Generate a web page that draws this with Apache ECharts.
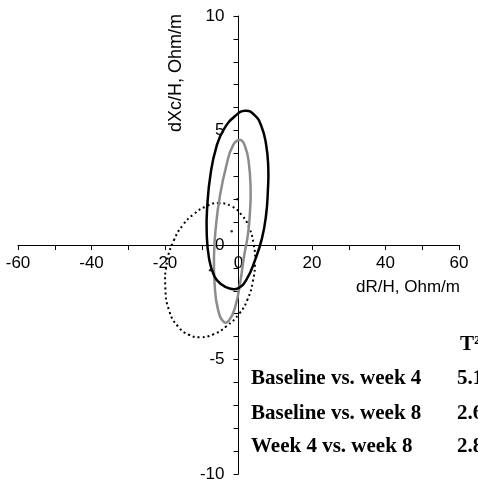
<!DOCTYPE html>
<html>
<head>
<meta charset="utf-8">
<script src="https://cdn.jsdelivr.net/npm/echarts@6/dist/echarts.min.js"></script>
<style>
html,body{margin:0;padding:0;background:#fff;}
#c{width:478px;height:495px;}
</style>
</head>
<body>
<div id="c"></div>
<script>
// ---- data ----
const xTicks = [-60, -40, -20, 0, 20, 40, 60];
const yTicks = [-10, -5, 0, 5, 10];
const xName = 'dR/H, Ohm/m';
const yName = 'dXc/H, Ohm/m';

// black solid ellipse (points along the outline)
const blackEllipse = [[1.8,5.86],[4.3,5.68],[6.2,5.2],[7.5,4.4],[8.1,3.4],[8.0,2.4],[7.5,1.3],[6.4,0.3],[4.5,-0.66],[2.2,-1.5],[0.0,-1.88],[-2.4,-1.9],[-4.8,-1.7],[-6.6,-1.35],[-8.0,-0.6],[-8.65,0.55],[-8.5,1.7],[-7.6,3.1],[-6.0,4.3],[-4.0,5.05],[-1.0,5.62]];
// grey solid ellipse
const greyEllipse = [[0.5,4.58],[1.8,4.3],[2.8,3.6],[3.3,2.4],[3.1,1.4],[2.6,0.5],[1.5,-0.5],[0.5,-1.6],[-0.9,-2.7],[-2.6,-3.3],[-4.0,-3.36],[-5.6,-2.8],[-6.5,-1.7],[-6.65,-0.4],[-6.15,0.8],[-5.1,2.1],[-3.4,3.4],[-1.5,4.35]];
// dotted ellipse
const dottedEllipse = [[-5.5,1.83],[-1.8,1.68],[0.9,1.3],[2.8,0.8],[4.1,0.05],[4.5,-0.7],[3.9,-1.6],[2.4,-2.4],[0.2,-3.0],[-3.3,-3.55],[-6.8,-3.9],[-10.5,-4.03],[-13.5,-3.92],[-16.4,-3.57],[-18.8,-2.9],[-19.9,-1.9],[-19.4,-0.7],[-17.6,0.2],[-15.0,0.9],[-12.3,1.33],[-8.7,1.7]];
// ellipse centres
const centres = [[-0.3,2.0],[-1.85,0.6],[-7.75,-1.1]];

// table
const tableHeader = 'T\u00B2';
const tableRows = ['Baseline vs. week 4', 'Baseline vs. week 8', 'Week 4 vs. week 8'];
const tableValues = ['5.1', '2.6', '2.8'];

// ---- chart ----
const W = 478, H = 495;
const G = {left: 18, right: 19, top: 16, bottom: 21};
const xMin = xTicks[0], xMax = xTicks[xTicks.length - 1];
const yMin = yTicks[0], yMax = yTicks[yTicks.length - 1];
const gridW = W - G.left - G.right, gridH = H - G.top - G.bottom;
// axes cross at the origin: shift them inward from the grid edges
const yAxisOffset = -gridW * (0 - xMin) / (xMax - xMin);
const xAxisOffset = -gridH * (0 - yMin) / (yMax - yMin);

const chart = echarts.init(document.getElementById('c'), null, {renderer: 'canvas'});

function ellipseSeries(pts, color, width, dash) {
  return {
    type: 'custom',
    coordinateSystem: 'cartesian2d',
    clip: false,
    silent: true,
    z: 3,
    data: pts,
    encode: {x: 0, y: 1},
    renderItem: function (params, api) {
      if (params.dataIndex !== 0) return null;
      return {
        type: 'polygon',
        shape: {points: pts.map(function (p) { return api.coord(p); }), smooth: 0.5},
        style: {fill: 'none', stroke: color, lineWidth: width, lineDash: dash || null, lineCap: 'butt'}
      };
    }
  };
}

const axisFont = {color: '#000', fontFamily: 'Liberation Sans, Arial, sans-serif', fontSize: 17};
const tableFont = 'bold 21px "Liberation Serif", "Times New Roman", serif';

const graphics = [
  {type: 'text', x: 460, y: 287, silent: true,
   style: {text: xName, fill: '#000', font: '17px "Liberation Sans", Arial, sans-serif', align: 'right', verticalAlign: 'middle', textAlign: 'right', textVerticalAlign: 'middle'}},
  {type: 'text', x: 176, y: 73, rotation: Math.PI / 2, silent: true,
   style: {text: yName, fill: '#000', font: '18px "Liberation Sans", Arial, sans-serif', align: 'center', verticalAlign: 'middle', textAlign: 'center', textVerticalAlign: 'middle'}},
  {type: 'text', x: 460, y: 345, silent: true,
   style: {text: tableHeader, fill: '#000', font: tableFont, align: 'left', verticalAlign: 'middle', textAlign: 'left', textVerticalAlign: 'middle'}}
];
const rowY = [378.5, 413.5, 446.7];
tableRows.forEach(function (r, i) {
  graphics.push({type: 'text', x: 251, y: rowY[i], silent: true,
    style: {text: r, fill: '#000', font: tableFont, align: 'left', verticalAlign: 'middle', textAlign: 'left', textVerticalAlign: 'middle'}});
  graphics.push({type: 'text', x: 457, y: rowY[i], silent: true,
    style: {text: tableValues[i], fill: '#000', font: tableFont, align: 'left', verticalAlign: 'middle', textAlign: 'left', textVerticalAlign: 'middle'}});
});

const option = {
  animation: false,
  backgroundColor: '#fff',
  grid: {left: G.left, right: G.right, top: G.top, bottom: G.bottom, containLabel: false, outerBoundsMode: 'none'},
  xAxis: {
    type: 'value', min: xMin, max: xMax, interval: 20, position: 'bottom', offset: xAxisOffset,
    axisLine: {show: true, onZero: false, lineStyle: {color: '#000', width: 1}},
    axisTick: {show: true, length: 5, lineStyle: {color: '#000', width: 1}},
    minorTick: {show: true, splitNumber: 2, length: 5, lineStyle: {color: '#000', width: 1}},
    splitLine: {show: false}, minorSplitLine: {show: false},
    axisLabel: Object.assign({margin: 10, showMinLabel: true, showMaxLabel: true}, axisFont)
  },
  yAxis: {
    type: 'value', min: yMin, max: yMax, interval: 5, position: 'left', offset: yAxisOffset,
    axisLine: {show: true, onZero: false, lineStyle: {color: '#000', width: 1}},
    axisTick: {show: true, length: 5, lineStyle: {color: '#000', width: 1}},
    minorTick: {show: true, splitNumber: 5, length: 5, lineStyle: {color: '#000', width: 1}},
    splitLine: {show: false}, minorSplitLine: {show: false},
    axisLabel: Object.assign({margin: 14, showMinLabel: true, showMaxLabel: true}, axisFont)
  },
  series: [
    ellipseSeries(dottedEllipse, '#000', 2, [2, 3]),
    ellipseSeries(greyEllipse, '#8c8c8c', 2.5),
    ellipseSeries(blackEllipse, '#000', 2.5),
    {type: 'scatter', data: centres, symbol: 'circle', symbolSize: 2.5, silent: true, z: 4,
     itemStyle: {color: '#000'}}
  ],
  graphic: graphics
};
chart.setOption(option);
</script>
</body>
</html>
